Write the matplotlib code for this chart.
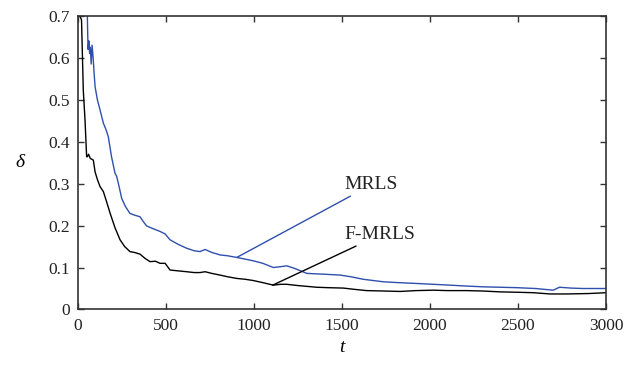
import numpy as np
import matplotlib
matplotlib.use("Agg")
import matplotlib.pyplot as plt

# values
t_mrls = [53, 57, 62, 66, 70, 75, 80, 86, 92, 97, 110, 125, 144, 158, 172, 190, 210, 220, 235,
          248, 270, 295, 320, 352, 370, 390, 430, 466, 495, 523, 570, 617, 660, 693, 722,
          760, 807, 850, 902, 950, 996, 1050, 1110, 1150, 1186, 1230, 1300, 1400, 1489,
          1550, 1620, 1735, 1820, 1924, 2020, 2114, 2200, 2303, 2400, 2492, 2600, 2700,
          2720, 2736, 2800, 2869, 2950, 3000]
d_mrls = [0.700, 0.620, 0.640, 0.610, 0.625, 0.585, 0.630, 0.600, 0.560, 0.531, 0.500, 0.476,
          0.444, 0.430, 0.412, 0.365, 0.325, 0.317, 0.290, 0.265, 0.245, 0.229, 0.225,
          0.221, 0.210, 0.199, 0.192, 0.186, 0.180, 0.166, 0.155, 0.146, 0.140, 0.138,
          0.143, 0.136, 0.130, 0.128, 0.124, 0.120, 0.116, 0.110, 0.100, 0.102, 0.104,
          0.098, 0.086, 0.084, 0.082, 0.078, 0.072, 0.066, 0.064, 0.062, 0.060, 0.058,
          0.056, 0.054, 0.053, 0.052, 0.050, 0.046, 0.050, 0.053, 0.051, 0.050, 0.050, 0.050]

t_fmrls = [10, 20, 30, 40, 49, 53, 60, 70, 87, 97, 110, 125, 144, 160, 182, 210, 239, 265,
           295, 320, 352, 380, 409, 440, 466, 495, 523, 570, 617, 660, 693, 722, 760, 807,
           850, 902, 950, 996, 1050, 1110, 1150, 1186, 1250, 1356, 1420, 1508, 1570, 1640,
           1740, 1830, 1920, 2019, 2100, 2208, 2300, 2398, 2500, 2587, 2682, 2777, 2900, 3000]
d_fmrls = [0.700, 0.690, 0.523, 0.450, 0.364, 0.364, 0.370, 0.360, 0.356, 0.328, 0.310,
           0.293, 0.281, 0.260, 0.230, 0.195, 0.166, 0.150, 0.138, 0.136, 0.132, 0.122,
           0.114, 0.115, 0.110, 0.110, 0.094, 0.092, 0.090, 0.088, 0.088, 0.090, 0.086,
           0.082, 0.078, 0.074, 0.072, 0.069, 0.064, 0.058, 0.060, 0.060, 0.057, 0.053,
           0.052, 0.051, 0.048, 0.045, 0.044, 0.043, 0.045, 0.046, 0.045, 0.045, 0.044,
           0.042, 0.041, 0.040, 0.037, 0.037, 0.038, 0.040]

x_ticks = [0, 500, 1000, 1500, 2000, 2500, 3000]
y_ticks = [0, 0.1, 0.2, 0.3, 0.4, 0.5, 0.6, 0.7]

plt.rcParams['font.family'] = ['Liberation Serif', 'DejaVu Serif']

fig = plt.figure(figsize=(6.42, 3.66), dpi=100)
ax = fig.add_axes([0.1215, 0.1544, 0.8225, 0.8026])

blue = '#2f4fae'
ax.plot(t_mrls, d_mrls, color=blue, lw=1.0)
ax.plot(t_fmrls, d_fmrls, color='black', lw=1.0)

ax.annotate('MRLS', xy=(902, 0.124), xytext=(1515, 0.297), fontsize=14,
            va='center', ha='left', color='#222222',
            arrowprops=dict(arrowstyle='-', color=blue, lw=1.0, shrinkA=0, shrinkB=0))
ax.annotate('F-MRLS', xy=(1106, 0.058), xytext=(1515, 0.178), fontsize=14,
            va='center', ha='left', color='#222222',
            arrowprops=dict(arrowstyle='-', color='black', lw=1.0, shrinkA=0, shrinkB=0))

ax.set_xlim(0, 3000)
ax.set_ylim(0, 0.7)
ax.set_xticks(x_ticks)
ax.set_yticks(y_ticks)
ax.set_yticklabels(['0' if v == 0 else f'{v:.1f}' for v in y_ticks])
ax.tick_params(direction='in', top=True, right=True, length=4, width=1,
               labelsize=12.5, colors='#333333', labelcolor='#222222', pad=6)
for s in ax.spines.values():
    s.set_color('#333333')
    s.set_linewidth(1.2)

ax.set_xlabel('t', fontsize=14, style='italic', labelpad=4)
ax.set_ylabel('δ', fontsize=14, style='italic', rotation=0, labelpad=20, va='center')

fig.savefig('out.png', dpi=100)
